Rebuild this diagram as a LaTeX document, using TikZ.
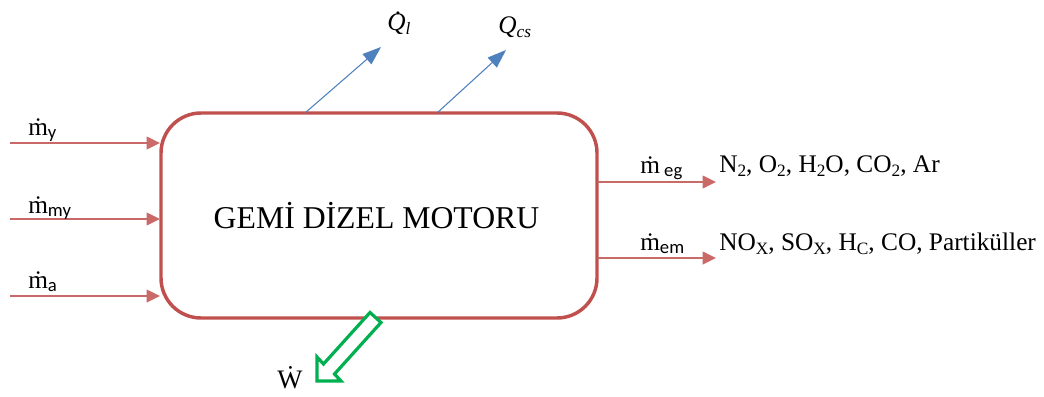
\documentclass[tikz,border=0pt]{standalone}
\usepackage{fontspec}
\setmainfont{Liberation Serif}
\newfontfamily\subsf{Carlito}
\usetikzlibrary{arrows.meta}
\definecolor{boxred}{HTML}{C0504D}
\definecolor{flowblue}{HTML}{4F81BD}
\definecolor{workgreen}{HTML}{00B050}
\newcommand{\md}{\.m}
\newcommand{\sfsub}[1]{\raisebox{-2.5pt}{\subsf\fontsize{14}{16}\selectfont #1}}
\newcommand{\chsub}[1]{\raisebox{-3.5pt}{\fontsize{13}{15}\selectfont #1}}
\newcommand{\dotQ}{\makebox[0pt][l]{\hspace{0.3em}\smash{\raisebox{0.62em}{.}}}\textit{Q}}
\begin{document}
\begin{tikzpicture}[x=0.75pt,y=-0.75pt,
  redarrow/.style={draw=boxred!85, line width=1.1pt, -{Triangle[length=10pt,width=9.5pt]}},
  bluearrow/.style={draw=flowblue, line width=0.8pt, -{Triangle[length=14pt,width=10pt]}},
  lbl/.style={inner sep=0pt, anchor=base west, font=\fontsize{19}{22}\selectfont},
  chem/.style={inner sep=0pt, anchor=base west, font=\fontsize{19}{22}\selectfont}]
\useasboundingbox (0,0) rectangle (1044,396);
% main box
\draw[boxred, line width=2.6pt, rounded corners=30] (161,113) rectangle (597,318);
\node[inner sep=0pt, font=\fontsize{23.8}{28}\selectfont] (title) at (376.5,216) {GEMİ DİZEL MOTORU};
% left inputs
\coordinate (l1) at (10,143); \coordinate (r1) at (160,143);
\coordinate (l2) at (10,219); \coordinate (r2) at (160,219);
\coordinate (l3) at (10,296); \coordinate (r3) at (160,296);
\draw[redarrow] (l1) -- (r1);
\draw[redarrow] (l2) -- (r2);
\draw[redarrow] (l3) -- (r3);
\node[lbl] (my) at (28,135) {\md\sfsub{y}};
\node[lbl] (mmy) at (28,213) {\md\sfsub{my}};
\node[lbl] (ma) at (28,288) {\md\sfsub{a}};
% right outputs
\coordinate (o1s) at (598,182); \coordinate (o1e) at (716,182);
\coordinate (o2s) at (598,258); \coordinate (o2e) at (716,258);
\draw[redarrow] (o1s) -- (o1e);
\draw[redarrow] (o2s) -- (o2e);
\node[lbl] (meg) at (640,173) {\md\,\sfsub{eg}};
\node[lbl] (mem) at (640,250) {\md\sfsub{em}};
\node[chem] (gas1) at (719,172) {N\chsub{2}, O\chsub{2}, H\chsub{2}O, CO\chsub{2}, Ar};
\node[chem] (gas2) at (719,250) {NO\chsub{X}, SO\chsub{X}, H\chsub{C}, CO, Partiküller};
% heat outputs
\coordinate (q1s) at (305,113); \coordinate (q1e) at (381,47);
\coordinate (q2s) at (437,113); \coordinate (q2e) at (506,50);
\draw[bluearrow] (q1s) -- (q1e);
\draw[bluearrow] (q2s) -- (q2e);
\node[chem] (ql) at (387,30) {\dotQ\chsub{\textit{l}}};
\node[chem] (qcs) at (498,33) {\textit{Q}\chsub{\textit{cs}}};
% work output
\draw[workgreen, line width=2.4pt, fill=white, line join=miter]
  (370,312.5) -- (323.5,364) -- (317,357) -- (317,381) -- (341,381)
  -- (334.5,374) -- (381,322.5) -- cycle;
\node[lbl, font=\fontsize{20}{22}\selectfont] (w) at (277,388) {\.W};
\end{tikzpicture}
\end{document}
